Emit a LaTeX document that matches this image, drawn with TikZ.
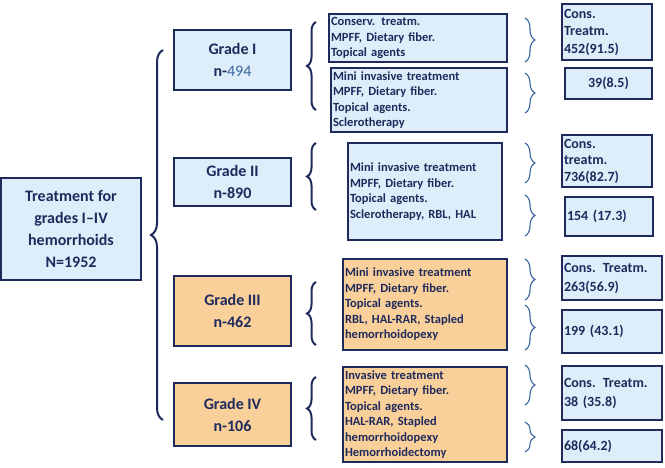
\documentclass[tikz,border=0pt]{standalone}
\usepackage{fontspec}
\setmainfont{Carlito}
\usetikzlibrary{decorations.pathreplacing}
\definecolor{navy}{HTML}{1F2A5C}
\definecolor{lblue}{HTML}{DDEEFA}
\definecolor{lorange}{HTML}{FAD09A}
\definecolor{bblue}{HTML}{3A64A0}
\tikzset{%
    box/.style={draw=navy,line width=1.6pt,fill=lblue,text=navy,font=\bfseries,inner sep=2pt},
    grd/.style={box,align=center,font=\bfseries\fontsize{16}{22}\selectfont},
    trt/.style={box,align=left,font=\bfseries\fontsize{12.5}{15.5}\selectfont},
    res/.style={box,align=left,font=\bfseries\fontsize{14}{19}\selectfont},
    lbr/.style={draw=navy,line width=2pt,decorate,decoration={brace,amplitude=9pt}},
    rbr/.style={draw=bblue,line width=1.1pt,decorate,decoration={brace,amplitude=10pt}}
}
\begin{document}
\begin{tikzpicture}[x=1pt,y=-1pt]
    \useasboundingbox (0,0) rectangle (665,467);
    \node[grd,minimum width=140,minimum height=102] (main) at (71,229) {Treatment for\\grades I--IV\\hemorrhoids\\N=1952};

    \node[grd,minimum width=117,minimum height=60] (g1) at (232.5,60) {Grade I\\n-{\mdseries\color{bblue}494}};
    \node[grd,minimum width=117,minimum height=48] (g2) at (232.5,182) {Grade II\\n-890};
    \node[grd,fill=lorange,minimum width=117,minimum height=70] (g3) at (232.5,311) {Grade III\\n-462};
    \node[grd,fill=lorange,minimum width=117,minimum height=63] (g4) at (232.5,414.5) {Grade IV\\n-106};

    \node[trt,text width=174,minimum height=48] (t1) at (418,38) {Conserv. treatm.\\MPFF, Dietary fiber.\\Topical agents};
    \node[trt,text width=172,minimum height=64] (t2) at (419,100) {Mini invasive treatment\\MPFF, Dietary fiber.\\Topical agents.\\Sclerotherapy};
    \node[trt,text width=150,minimum height=97] (t3) at (425,191.5) {Mini invasive treatment\\MPFF, Dietary fiber.\\Topical agents.\\Sclerotherapy, RBL, HAL};
    \node[trt,fill=lorange,text width=160,minimum height=91] (t4) at (425,304.5) {Mini invasive treatment\\MPFF, Dietary fiber.\\Topical agents.\\RBL, HAL-RAR, Stapled\\hemorrhoidopexy};
    \node[trt,fill=lorange,text width=160,minimum height=95] (t5) at (425,414.5) {Invasive treatment\\MPFF, Dietary fiber.\\Topical agents.\\HAL-RAR, Stapled\\hemorrhoidopexy\\Hemorrhoidectomy};

    \node[res,text width=86,minimum height=56,font=\bfseries\fontsize{14}{17.5}\selectfont] (r1) at (607,32) {Cons.\\Treatm.\\452(91.5)};
    \node[res,text width=83,minimum height=31,align=center] (r2) at (608.5,83.5) {39(8.5)};
    \node[res,text width=86,minimum height=52,font=\bfseries\fontsize{14}{16.5}\selectfont] (r3) at (607,161) {Cons.\\treatm.\\736(82.7)};
    \node[res,text width=84,minimum height=39] (r4) at (609,216.5) {154 (17.3)};
    \node[res,text width=96,minimum height=44] (r5) at (612,278) {Cons. Treatm.\\263(56.9)};
    \node[res,text width=96,minimum height=43] (r6) at (612,331.5) {199 (43.1)};
    \node[res,text width=96,minimum height=54] (r7) at (612,393) {Cons. Treatm.\\38 (35.8)};
    \node[res,text width=96,minimum height=32] (r8) at (612,446) {68(64.2)};

    % brackets
    \draw[lbr,decoration={amplitude=12pt}] (163,420) -- (163,50);
    \draw[lbr] (316,110) -- (316,22);
    \draw[lbr] (316,210) -- (316,143);
    \draw[lbr] (316,345) -- (316,282);
    \draw[lbr] (316,440) -- (316,377);
    \draw[rbr] (525,18) -- (525,62);
    \draw[rbr] (525,73) -- (525,113);
    \draw[rbr] (525,143) -- (525,183);
    \draw[rbr] (525,195) -- (525,236);
    \draw[rbr] (525,259) -- (525,300);
    \draw[rbr] (525,305) -- (525,350);
    \draw[rbr] (525,365) -- (525,405);
    \draw[rbr] (525,422) -- (525,452);
\end{tikzpicture}
\end{document}
